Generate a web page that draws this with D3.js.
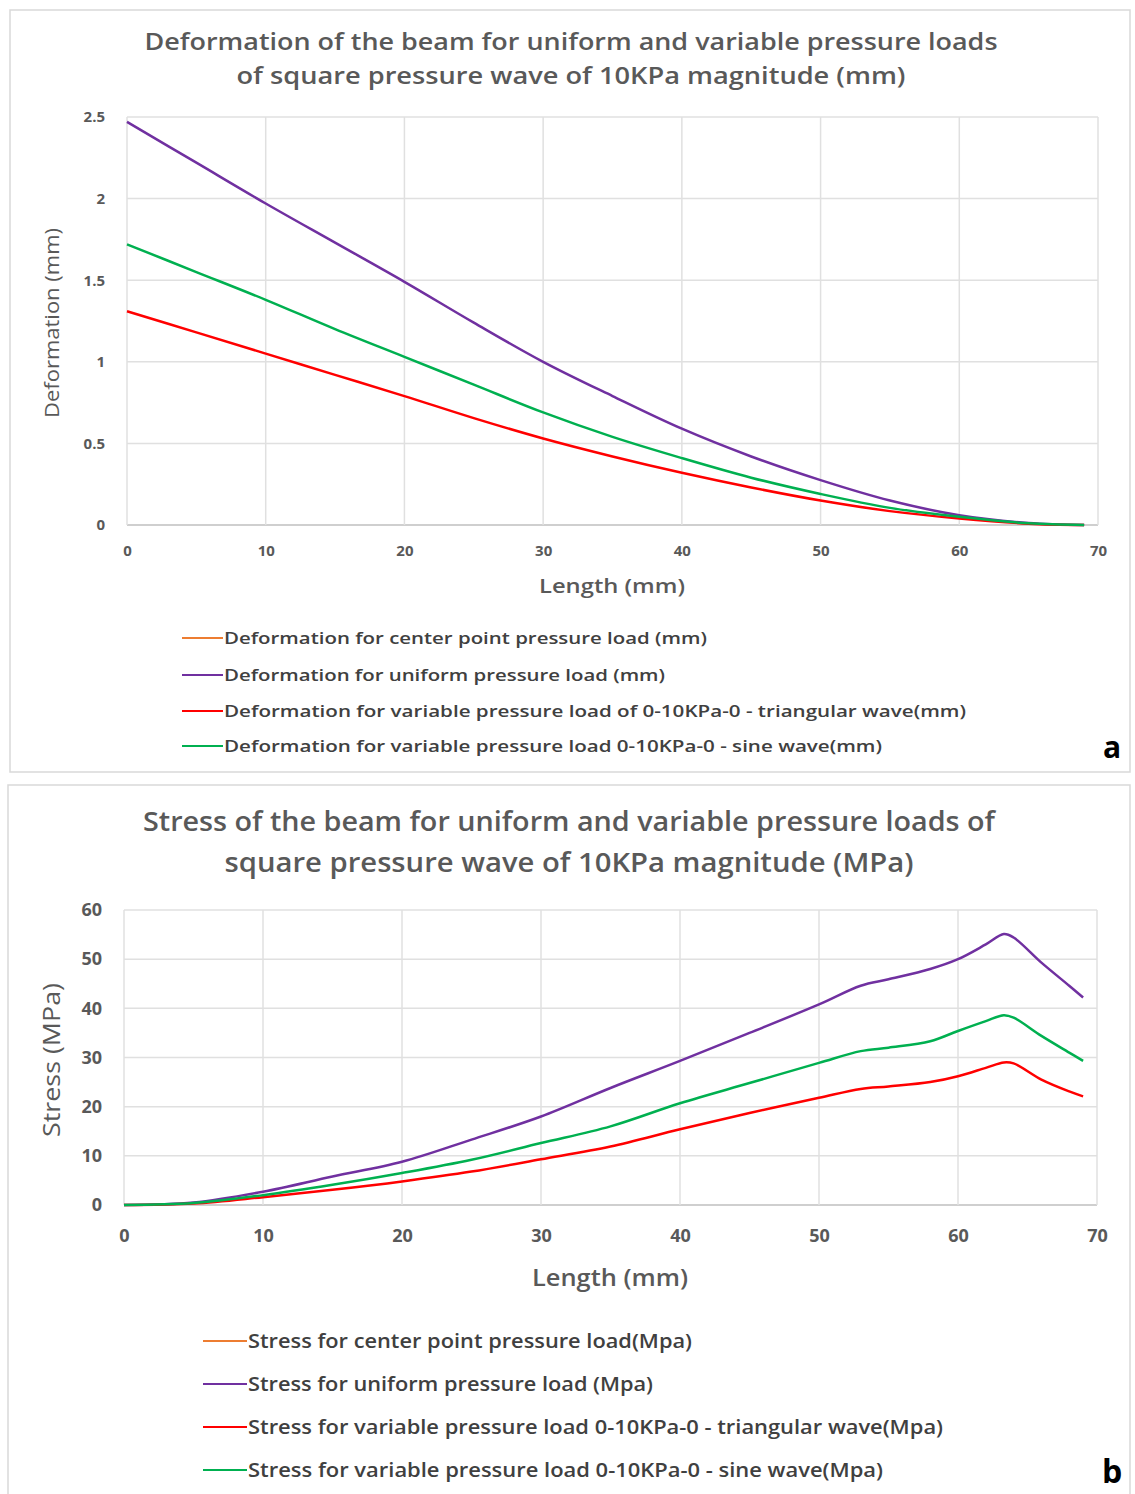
<!DOCTYPE html>
<html><head><meta charset="utf-8">
<script src="https://cdn.jsdelivr.net/npm/d3@7"></script>
<style>
body{margin:0;background:#fff;}
svg text{font-family:"Open Sans",sans-serif;}
</style></head>
<body><svg id="c" width="1135" height="1494"></svg>
<script>
// ---------- Data: panel a (deformation, mm) ----------
const defX = [0,5,10,15,20,25,30,35,40,45,50,55,60,65,69];
const defCenter = []; // not visible in the reference
const defUniform = [2.47,2.22,1.97,1.73,1.49,1.24,1.0,0.79,0.59,0.42,0.275,0.15,0.06,0.012,0];
const defTriangular = [1.31,1.18,1.05,0.92,0.79,0.655,0.53,0.42,0.32,0.23,0.15,0.085,0.04,0.008,0];
const defSine = [1.72,1.55,1.38,1.20,1.03,0.86,0.69,0.54,0.41,0.29,0.19,0.105,0.05,0.01,0];
const defYTicks = [0,0.5,1,1.5,2,2.5];
const defLegend = ["Deformation for center point pressure load (mm)",
  "Deformation for uniform pressure load (mm)",
  "Deformation for variable pressure load of 0-10KPa-0 - triangular wave(mm)",
  "Deformation for variable pressure load 0-10KPa-0 - sine wave(mm)"];

// ---------- Data: panel b (stress, MPa) ----------
const strX = [0,5,10,15,20,25,30,35,40,45,50,53,55,58,60,62,63.3,64,66,68,69];
const strCenter = [];
const strUniform = [0,0.5,2.7,5.8,8.8,13.3,18.0,23.8,29.3,35.0,40.8,44.6,45.9,48.0,50.0,53.0,55.1,54.4,49.3,44.6,42.2];
const strTriangular = [0,0.3,1.6,3.1,4.8,6.8,9.3,11.9,15.4,18.7,21.8,23.6,24.1,25.0,26.2,27.9,29.0,28.8,25.5,23.1,22.1];
const strSine = [0,0.4,2.0,4.1,6.5,9.2,12.6,16.0,20.7,24.8,28.9,31.3,32.0,33.3,35.4,37.4,38.6,38.1,34.4,31.0,29.3];
const strYTicks = [0,10,20,30,40,50,60];
const strLegend = ["Stress for center point pressure load(Mpa)",
  "Stress for uniform pressure load (Mpa)",
  "Stress for variable pressure load 0-10KPa-0 - triangular wave(Mpa)",
  "Stress for variable pressure load 0-10KPa-0 - sine wave(Mpa)"];

const xTicks = [0,10,20,30,40,50,60,70];
const colors = ["#ed7d31","#7030a0","#ff0000","#00b050"];

const svg = d3.select("#c");
const txt = "#595959";

function fit(sel, w){ if(w) sel.attr("textLength",w).attr("lengthAdjust","spacingAndGlyphs"); return sel; }

function panel(cfg){
  const g = svg.append("g");
  g.append("rect").attr("x",cfg.frame[0]).attr("y",cfg.frame[1]).attr("width",cfg.frame[2]).attr("height",cfg.frame[3])
    .attr("fill","#fff").attr("stroke","#d9d9d9").attr("stroke-width",1.5);
  cfg.title.forEach((t,i)=>{
    fit(g.append("text").attr("x",cfg.titleX).attr("y",cfg.titleY[i]).attr("text-anchor","middle")
      .attr("font-size",cfg.titleSize).attr("font-weight",600).attr("fill",txt).text(t), cfg.titleW[i]);
  });
  const x = d3.scaleLinear().domain([0,70]).range([cfg.plot.l,cfg.plot.r]);
  const y = d3.scaleLinear().domain(cfg.yDomain).range([cfg.plot.b,cfg.plot.t]);
  g.append("g").selectAll("line").data(cfg.yTicks).join("line")
    .attr("x1",cfg.plot.l).attr("x2",cfg.plot.r).attr("y1",d=>y(d)).attr("y2",d=>y(d))
    .attr("stroke",d=>d===0?"#bfbfbf":"#e0e0e0").attr("stroke-width",1.5);
  g.append("g").selectAll("line").data(xTicks).join("line")
    .attr("x1",d=>x(d)).attr("x2",d=>x(d)).attr("y1",cfg.plot.t).attr("y2",cfg.plot.b)
    .attr("stroke","#e0e0e0").attr("stroke-width",1.5);
  const ax = g.append("g").attr("transform",`translate(0,${cfg.plot.b})`)
    .call(d3.axisBottom(x).tickValues(xTicks).tickSize(0).tickPadding(cfg.xPad));
  ax.select(".domain").remove();
  ax.selectAll("text").attr("font-size",cfg.tickSize).attr("font-weight",700).attr("fill",txt)
    .attr("font-family","Open Sans");
  const ay = g.append("g").attr("transform",`translate(${cfg.plot.l},0)`)
    .call(d3.axisLeft(y).tickValues(cfg.yTicks).tickSize(0).tickPadding(cfg.yPad).tickFormat(d3.format("")));
  ay.select(".domain").remove();
  ay.selectAll("text").attr("font-size",cfg.tickSize).attr("font-weight",700).attr("fill",txt)
    .attr("font-family","Open Sans");
  fit(g.append("text").attr("x",cfg.xTitle[0]).attr("y",cfg.xTitle[1]).attr("text-anchor","middle")
    .attr("font-size",cfg.axTitleSize).attr("font-weight",600).attr("fill",txt).text("Length (mm)"), cfg.xTitleW);
  fit(g.append("text").attr("transform",`translate(${cfg.yTitle[0]},${cfg.yTitle[1]}) rotate(-90)`).attr("text-anchor","middle")
    .attr("font-size",cfg.axTitleSize).attr("font-weight",400).attr("fill",txt).text(cfg.yLabel), cfg.yTitleW);
  const line = d3.line().x(d=>x(d[0])).y(d=>y(d[1])).curve(d3.curveCatmullRom.alpha(0.5));
  cfg.series.forEach((s,i)=>{
    if(!s.length) return;
    g.append("path").datum(cfg.xs.map((xv,j)=>[xv,s[j]])).attr("d",line)
      .attr("fill","none").attr("stroke",colors[i]).attr("stroke-width",2.5).attr("stroke-linejoin","round");
  });
  cfg.legend.forEach((t,i)=>{
    const yy = cfg.legY[i];
    g.append("line").attr("x1",cfg.legX).attr("x2",cfg.legX+cfg.legLen).attr("y1",yy).attr("y2",yy)
      .attr("stroke",colors[i]).attr("stroke-width",2);
    fit(g.append("text").attr("x",cfg.legX+cfg.legLen+1).attr("y",yy).attr("dy","0.35em")
      .attr("font-size",cfg.legSize).attr("font-weight",600).attr("fill","#404040").text(t), cfg.legW[i]);
  });
  g.append("text").attr("x",cfg.tag[0]).attr("y",cfg.tag[1]).attr("text-anchor","middle")
    .attr("font-size",cfg.tagSize).attr("font-weight",700).attr("fill","#000").text(cfg.tagText);
}

panel({
  frame:[10,10,1120,762],
  title:["Deformation of the beam for uniform and variable pressure loads","of square pressure wave of 10KPa magnitude (mm)"],
  titleW:[853,669],
  titleX:571, titleY:[50,84], titleSize:23,
  plot:{l:127,r:1098,t:117,b:525},
  yDomain:[0,2.5], yTicks:defYTicks,
  tickSize:15, xPad:20, yPad:22,
  xTitle:[612,593], xTitleW:146, yTitle:[59,323], yTitleW:190, axTitleSize:20, yLabel:"Deformation (mm)",
  xs:defX, series:[defCenter,defUniform,defTriangular,defSine],
  legend:defLegend, legW:[483,441,742,658], legX:182, legLen:41, legY:[638,675,711,746], legSize:17,
  tag:[1112,758], tagSize:30, tagText:"a"
});

panel({
  frame:[8,785,1122,720],
  title:["Stress of the beam for uniform and variable pressure loads of","square pressure wave of 10KPa magnitude  (MPa)"],
  titleW:[852,689],
  titleX:569, titleY:[831,872], titleSize:27,
  plot:{l:124,r:1097,t:910,b:1205},
  yDomain:[0,60], yTicks:strYTicks,
  tickSize:18, xPad:24, yPad:22,
  xTitle:[610,1286], xTitleW:156, yTitle:[60,1060], yTitleW:154, axTitleSize:23, yLabel:"Stress (MPa)",
  xs:strX, series:[strCenter,strUniform,strTriangular,strSine],
  legend:strLegend, legW:[444,405,695,635], legX:203, legLen:44, legY:[1341,1384,1427,1470], legSize:20,
  tag:[1112,1483], tagSize:32, tagText:"b"
});
</script></body></html>
